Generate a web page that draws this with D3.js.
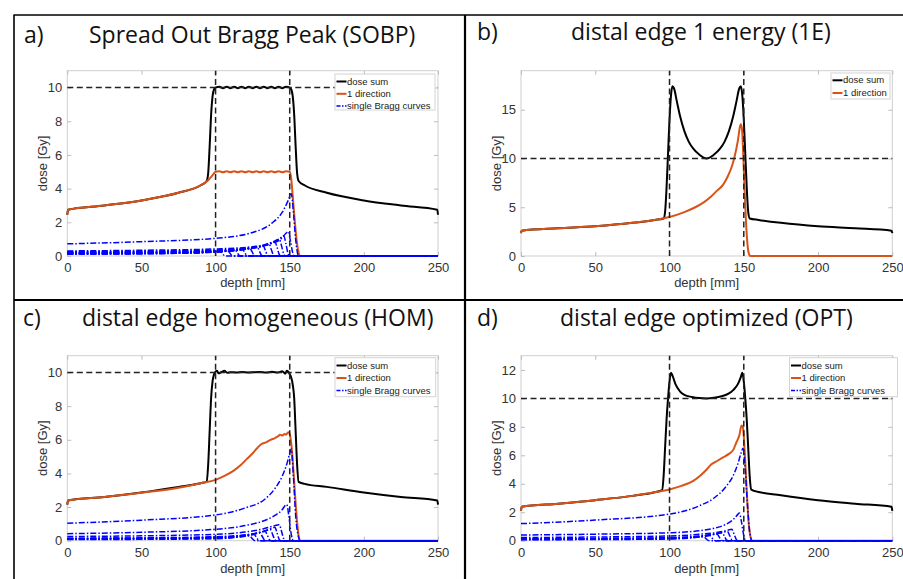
<!DOCTYPE html>
<html>
<head>
<meta charset="utf-8">
<script src="https://cdn.jsdelivr.net/npm/d3@7"></script>
<style>
  body { margin: 0; background: #fff; }
  svg { display: block; }
</style>
</head>
<body>
<svg id="fig" width="903" height="579"></svg>
<script>
// ---------- data ----------
const xTicks = [0, 50, 100, 150, 200, 250];
const aYTicks = [0, 2, 4, 6, 8, 10];
const bYTicks = [0, 5, 10, 15];
const cYTicks = [0, 2, 4, 6, 8, 10];
const dYTicks = [0, 2, 4, 6, 8, 10, 12];

const panelLetters = ["a)", "b)", "c)", "d)"];
const panelTitles = [
  "Spread Out Bragg Peak (SOBP)",
  "distal edge 1 energy (1E)",
  "distal edge homogeneous (HOM)",
  "distal edge optimized (OPT)"
];
const legendLabels = ["dose sum", "1 direction", "single Bragg curves"];
const targetEdges = [100, 150];   // mm
const prescribedDose = 10;        // Gy

// a) SOBP
const aSum = [[0,2.45],[0.5,2.75],[25,3.0],[50,3.3],[75,3.75],[90,4.2],[94,4.45],[95,4.9],[96,6.5],[97,8.4],[98,9.5],[99,9.9],[100,10],
  [102.5,10.05],[105,9.96],[107.5,10.05],[110,9.96],[112.5,10.05],[115,9.96],[117.5,10.05],[120,9.96],[122.5,10.05],[125,9.96],
  [127.5,10.05],[130,9.96],[132.5,10.05],[135,9.96],[137.5,10.05],[140,9.96],[142.5,10.05],[145,9.96],[147.5,10.05],[150,10],
  [151,9.9],[152,9.5],[153,8.4],[154,6.5],[155,4.9],[156,4.45],[160,4.2],[175,3.75],[200,3.3],[225,3.0],[249.5,2.75],[250,2.45]];
const aDir = [[0,2.45],[0.5,2.75],[25,3.0],[50,3.3],[75,3.75],[90,4.2],[95,4.5],[98,4.8],[100,5],
  [102.5,5.03],[105,4.97],[107.5,5.03],[110,4.97],[112.5,5.03],[115,4.97],[117.5,5.03],[120,4.97],[122.5,5.03],[125,4.97],
  [127.5,5.03],[130,4.97],[132.5,5.03],[135,4.97],[137.5,5.03],[140,4.97],[142.5,5.03],[145,4.97],[147.5,5.03],[150,5],
  [151,4.6],[152,3.6],[153,2.5],[154,1.5],[155,0.7],[156,0.2],[157,0],[250,0]];
const aBragg = [
  [[0,.72],[50,.85],[100,1.05],[125,1.4],[138,1.95],[145,2.6],[149,3.3],[151,3.7],[152.5,2.6],[154,1.0],[156,0],[250,0]],
  [[0,.30],[50,.34],[100,.42],[125,.55],[138,.75],[144,1.0],[147.5,1.35],[149,1.45],[150.5,.9],[152,.2],[153,0],[250,0]],
  [[0,.26],[50,.29],[100,.36],[125,.5],[136,.7],[142,.95],[145,1.15],[146,1.2],[147.5,.7],[149,.1],[150,0],[250,0]],
  [[0,.23],[50,.26],[100,.32],[122,.45],[133,.62],[139,.85],[142,.98],[143,1.0],[144.5,.6],[146,.1],[147,0],[250,0]],
  [[0,.21],[50,.24],[100,.3],[120,.42],[131,.58],[136,.75],[139,.84],[140,.85],[141.5,.5],[143,.08],[144,0],[250,0]],
  [[0,.19],[50,.22],[100,.28],[118,.38],[127,.5],[132,.63],[135,.71],[136,.72],[137.5,.4],[139,.06],[140,0],[250,0]],
  [[0,.17],[50,.2],[100,.26],[115,.35],[123,.45],[128,.55],[131,.61],[132,.62],[133.5,.35],[135,.05],[136,0],[250,0]],
  [[0,.16],[50,.18],[100,.24],[112,.32],[120,.4],[124,.48],[127,.54],[128,.55],[129.5,.3],[131,.04],[132,0],[250,0]],
  [[0,.15],[50,.17],[95,.22],[108,.29],[116,.36],[120,.43],[122,.47],[123,.48],[124.5,.27],[126,.04],[127,0],[250,0]],
  [[0,.14],[50,.16],[90,.2],[104,.27],[111,.33],[115,.38],[117,.41],[118,.42],[119.5,.24],[121,.03],[122,0],[250,0]],
  [[0,.13],[50,.15],[85,.19],[100,.25],[106,.3],[110,.35],[112,.37],[113,.38],[114.5,.21],[116,.03],[117,0],[250,0]],
  [[0,.12],[50,.14],[80,.18],[95,.23],[101,.27],[105,.31],[107,.33],[108,.34],[109.5,.19],[111,.03],[112,0],[250,0]],
  [[0,.11],[50,.13],[75,.16],[90,.2],[96,.24],[100,.28],[102,.29],[103,.3],[104.5,.17],[106,.02],[107,0],[250,0]]
];

// b) 1E
const bSum = [[0,2.35],[0.5,2.6],[25,2.85],[50,3.05],[75,3.4],[90,3.7],[96,3.85],[97,4.5],[98,7],[99,10.5],[100,14],[101,16.5],[102,17.4],
  [103,17.2],[105,15.8],[107,14.4],[110,12.8],[113,11.7],[116,11.0],[120,10.4],[125,10.0],[130,10.4],[134,11.0],[137,11.7],
  [140,12.8],[143,14.4],[145,15.8],[147,17.2],[148,17.4],[149,16.5],[150,14],[151,10.5],[152,7],[153,4.5],[154,3.85],
  [160,3.7],[175,3.4],[200,3.05],[225,2.85],[249.5,2.6],[250,2.35]];
const bDir = [[0,2.35],[0.5,2.6],[25,2.85],[50,3.05],[75,3.4],[90,3.7],[100,4.0],[110,4.5],[118,5.05],[123,5.5],[128,6.1],
  [132,6.7],[136,7.3],[139,8.1],[142,9.2],[144,10.3],[146,11.8],[147.5,13.3],[148,13.5],[148.8,13.0],[149.6,10.5],
  [150.5,7],[151.5,3.5],[152.5,1.2],[153.5,0.2],[154.5,0],[250,0]];

// c) HOM
const cSum = [[0,2.15],[0.5,2.39],[25,2.6],[50,2.87],[75,3.2],[90,3.42],[94,3.5],[95,4.5],[96,6.5],[97,8.5],[98,9.5],[99,9.9],
  [100,10.05],[101,10.1],[102,9.95],[104,10.03],[106,10.1],[108,9.98],[110,10.02],[114,10.0],[118,10.03],[122,10.0],
  [126,10.02],[130,10.03],[134,10.0],[138,10.04],[142,10.0],[145,10.08],[147,9.93],[148,10.1],[149,10.05],[150,9.9],
  [151,9.7],[152,9.3],[153,8.5],[154,6.5],[155,4.5],[156,3.5],[160,3.38],[175,3.2],[200,2.87],[225,2.6],[249.5,2.39],[250,2.15]];
const cDir = [[0,2.15],[0.5,2.39],[25,2.6],[50,2.85],[75,3.15],[90,3.42],[100,3.62],[106,3.85],[112,4.15],[117,4.5],[121,4.85],
  [125,5.2],[128,5.5],[131,5.75],[134,5.85],[137,6.0],[140,6.1],[142,6.2],[143.5,6.3],[145,6.25],[146.5,6.35],[147.5,6.3],
  [149,6.45],[150,6.35],[151,5.8],[152,4.8],[153,3.5],[154,2.2],[155,1.1],[156,0.3],[157,0],[250,0]];
const cBragg = [
  [[0,1.04],[50,1.22],[100,1.53],[120,1.95],[133,2.45],[140,3.1],[145,3.85],[148.5,4.7],[150,5.2],[151,5.45],[152.5,3.8],[154,1.5],[156,.2],[157,0],[250,0]],
  [[0,.42],[50,.5],[100,.68],[120,.9],[133,1.2],[140,1.5],[145,1.85],[147,2.1],[148,2.15],[149.5,1.4],[151,.4],[152.5,0],[250,0]],
  [[0,.25],[50,.29],[100,.38],[120,.52],[132,.7],[138,.85],[142,.94],[143,.95],[144.5,.55],[146,.1],[147,0],[250,0]],
  [[0,.15],[50,.17],[100,.24],[120,.35],[130,.5],[136,.68],[139,.78],[140,.8],[141.5,.45],[143,.06],[144,0],[250,0]],
  [[0,.13],[50,.15],[100,.21],[118,.3],[128,.44],[134,.6],[136,.65],[137,.66],[138.5,.36],[140,.05],[141,0],[250,0]],
  [[0,.12],[50,.14],[100,.19],[116,.27],[125,.38],[130,.5],[132.5,.55],[133.5,.56],[135,.3],[136.5,.04],[137.5,0],[250,0]],
  [[0,.1],[50,.12],[100,.17],[114,.24],[122,.33],[127,.42],[129,.45],[130,.46],[131.5,.25],[133,.03],[134,0],[250,0]],
  [[0,.09],[50,.1],[100,.14],[112,.2],[119,.27],[123,.33],[125,.36],[126,.37],[127.5,.2],[129,.03],[130,0],[250,0]],
  [[0,.07],[50,.08],[100,.12],[110,.16],[116,.22],[120,.26],[122,.28],[123,.29],[124.5,.15],[126,.02],[127,0],[250,0]]
];

// d) OPT
const dSum = [[0,2.1],[0.5,2.38],[25,2.6],[50,2.85],[75,3.15],[90,3.4],[95,3.55],[96,4.5],[97,6.5],[98,8.5],[99,10],[100,11.2],
  [101,11.8],[102,11.6],[104,11.0],[107,10.5],[110,10.25],[115,10.1],[120,10.02],[125,10.0],[130,10.05],[135,10.15],
  [140,10.35],[143,10.6],[146,11.0],[148,11.5],[149,11.8],[150,11.2],[151,10],[152,8.5],[153,6.5],[154,4.5],[155,3.6],
  [157,3.5],[175,3.2],[200,2.85],[225,2.6],[249.5,2.38],[250,2.1]];
const dDir = [[0,2.1],[0.5,2.38],[25,2.6],[50,2.85],[75,3.15],[90,3.4],[100,3.6],[108,3.85],[116,4.2],[121,4.6],[125,5.0],
  [128,5.35],[132,5.6],[136,5.85],[140,6.1],[143,6.4],[145,6.9],[147,7.4],[148.5,8.1],[149.5,7.9],[150.5,6.5],[151.5,4.5],
  [152.5,2.5],[153.5,1.0],[154.5,0.3],[155.5,0],[250,0]];
const dBragg = [
  [[0,1.2],[50,1.45],[100,1.87],[120,2.45],[130,3.0],[138,3.8],[143,4.6],[146,5.4],[148,6.1],[149.5,6.5],[151,5.0],[152.5,2.5],[154,.6],[155.5,0],[250,0]],
  [[0,.4],[50,.46],[100,.56],[120,.7],[130,.88],[138,1.15],[143,1.5],[146,1.85],[147,1.95],[148.5,1.3],[150,.35],[151.5,0],[250,0]],
  [[0,.22],[50,.26],[100,.33],[120,.45],[130,.55],[137,.68],[141,.78],[142,.8],[143.5,.45],[145,.08],[146,0],[250,0]],
  [[0,.14],[50,.16],[100,.22],[120,.33],[130,.46],[135,.58],[138,.64],[139,.65],[140.5,.36],[142,.05],[143,0],[250,0]],
  [[0,.12],[50,.14],[100,.19],[118,.28],[127,.4],[132,.5],[134.5,.54],[135.5,.55],[137,.3],[138.5,.04],[139.5,0],[250,0]],
  [[0,.1],[50,.12],[100,.17],[115,.24],[124,.33],[129,.42],[131,.45],[132,.46],[133.5,.25],[135,.03],[136,0],[250,0]],
  [[0,.09],[50,.1],[100,.14],[112,.2],[120,.27],[124,.32],[126,.35],[127,.36],[128.5,.2],[130,.03],[131,0],[250,0]],
  [[0,.07],[50,.08],[100,.12],[110,.16],[116,.21],[120,.25],[122,.27],[123,.28],[124.5,.15],[126,.02],[127,0],[250,0]]
];

// ---------- layout ----------
const panels = [
  { sum: aSum, dir: aDir, bragg: aBragg, yTicks: aYTicks, ymax: 11,
    x0: 67.3, x1: 438, yT: 70.7, yB: 256,
    letterX: 24, titleX: 89, titleY: 43, ylabX: 46.5, xlabY: 287,
    leg: { x: 335, y: 74, w: 100, h: 36, rows: [84.5, 96.8, 109] } },
  { sum: bSum, dir: bDir, bragg: [], yTicks: bYTicks, ymax: 19,
    x0: 521, x1: 892.3, yT: 70.7, yB: 256,
    letterX: 477, titleX: 571, titleY: 40, ylabX: 500.5, xlabY: 287,
    leg: { x: 831, y: 73, w: 59, h: 26, rows: [83.3, 96] } },
  { sum: cSum, dir: cDir, bragg: cBragg, yTicks: cYTicks, ymax: 11,
    x0: 67.3, x1: 438, yT: 355.7, yB: 540.7,
    letterX: 23, titleX: 82, titleY: 326, ylabX: 46.5, xlabY: 573,
    leg: { x: 335, y: 357.7, w: 100.7, h: 39, rows: [368.5, 381, 393.5] } },
  { sum: dSum, dir: dDir, bragg: dBragg, yTicks: dYTicks, ymax: 13,
    x0: 521, x1: 892.3, yT: 355.7, yB: 540.7,
    letterX: 477, titleX: 560, titleY: 326, ylabX: 500.5, xlabY: 573,
    leg: { x: 789.5, y: 357.7, w: 108, h: 39, rows: [368.5, 381, 393.5] } }
];

const svg = d3.select("#fig");
const tickFont = "'Liberation Sans', Arial, sans-serif";
const titleFont = "'Open Sans', 'Noto Sans', sans-serif";
const orange = "#D95319";
const braggDash = "6,2,1.5,2";

// outer frame of the figure
const frame = svg.append("g").attr("stroke", "#000").attr("fill", "none");
frame.append("line").attr("x1", 13.5).attr("x2", 903).attr("y1", 15).attr("y2", 15).attr("stroke-width", 1.6);
frame.append("line").attr("x1", 14).attr("x2", 14).attr("y1", 15).attr("y2", 579).attr("stroke-width", 1.6);
frame.append("line").attr("x1", 465).attr("x2", 465).attr("y1", 15).attr("y2", 579).attr("stroke-width", 2.2);
frame.append("line").attr("x1", 14).attr("x2", 903).attr("y1", 300).attr("y2", 300).attr("stroke-width", 2.2);

panels.forEach(function(p, i) {
  const g = svg.append("g");
  const x = d3.scaleLinear().domain([0, 250]).range([p.x0, p.x1]);
  const y = d3.scaleLinear().domain([0, p.ymax]).range([p.yB, p.yT]);

  // titles
  g.append("text").attr("x", p.letterX).attr("y", p.titleY)
    .style("font-family", titleFont).style("font-size", "23px").attr("fill", "#111")
    .text(panelLetters[i]);
  g.append("text").attr("x", p.titleX).attr("y", p.titleY)
    .style("font-family", titleFont).style("font-size", "23px").attr("fill", "#111")
    .text(panelTitles[i]);

  // axes box
  g.append("rect").attr("x", p.x0).attr("y", p.yT)
    .attr("width", p.x1 - p.x0).attr("height", p.yB - p.yT)
    .attr("fill", "#fff").attr("stroke", "#cfcfcf").attr("stroke-width", 1);

  function styleAxis(sel, labels) {
    sel.select(".domain").remove();
    sel.selectAll(".tick line").attr("stroke", "#bdbdbd");
    sel.selectAll(".tick text").attr("fill", "#333")
      .style("font-family", tickFont).style("font-size", "13px");
    if (!labels) sel.selectAll(".tick text").remove();
  }

  g.append("g").attr("transform", "translate(0," + p.yB + ")")
    .call(d3.axisBottom(x).tickValues(xTicks).tickSizeInner(-4).tickSizeOuter(0).tickPadding(7))
    .call(styleAxis, true);
  g.append("g").attr("transform", "translate(0," + p.yT + ")")
    .call(d3.axisTop(x).tickValues(xTicks).tickSizeInner(-4).tickSizeOuter(0))
    .call(styleAxis, false);
  g.append("g").attr("transform", "translate(" + p.x0 + ",0)")
    .call(d3.axisLeft(y).tickValues(p.yTicks).tickSizeInner(-4).tickSizeOuter(0).tickPadding(5))
    .call(styleAxis, true);
  g.append("g").attr("transform", "translate(" + p.x1 + ",0)")
    .call(d3.axisRight(y).tickValues(p.yTicks).tickSizeInner(-4).tickSizeOuter(0))
    .call(styleAxis, false);

  // axis labels
  g.append("text").attr("x", (p.x0 + p.x1) / 2).attr("y", p.xlabY)
    .attr("text-anchor", "middle").attr("fill", "#333")
    .style("font-family", tickFont).style("font-size", "13px").text("depth [mm]");
  g.append("text")
    .attr("transform", "translate(" + p.ylabX + "," + ((p.yT + p.yB) / 2) + ") rotate(-90)")
    .attr("text-anchor", "middle").attr("fill", "#333")
    .style("font-family", tickFont).style("font-size", "13px").text("dose [Gy]");

  const line = d3.line()
    .x(function(d) { return x(d[0]); })
    .y(function(d) { return y(d[1]); })
    .curve(d3.curveMonotoneX);

  // curves
  g.append("path").datum(p.sum).attr("d", line)
    .attr("fill", "none").attr("stroke", "#000").attr("stroke-width", 2);
  g.append("path").datum(p.dir).attr("d", line)
    .attr("fill", "none").attr("stroke", orange).attr("stroke-width", 2);
  g.selectAll("path.bragg").data(p.bragg).enter().append("path")
    .attr("class", "bragg").attr("d", line)
    .attr("fill", "none").attr("stroke", "#0000ff").attr("stroke-width", 1.5)
    .attr("stroke-dasharray", braggDash);

  // target edges and prescribed dose
  targetEdges.forEach(function(e) {
    g.append("line").attr("x1", x(e)).attr("x2", x(e)).attr("y1", p.yB).attr("y2", p.yT)
      .attr("stroke", "#222").attr("stroke-width", 1.5).attr("stroke-dasharray", "6,3.5");
  });
  g.append("line").attr("x1", p.x0).attr("x2", p.x1)
    .attr("y1", y(prescribedDose)).attr("y2", y(prescribedDose))
    .attr("stroke", "#222").attr("stroke-width", 1.5).attr("stroke-dasharray", "6,3.5");

  // legend
  const L = p.leg;
  const lg = g.append("g");
  lg.append("rect").attr("x", L.x).attr("y", L.y).attr("width", L.w).attr("height", L.h)
    .attr("fill", "#fff").attr("stroke", "#d4d4d4").attr("stroke-width", 1);
  const styles = [
    { c: "#000", w: 2, dash: null },
    { c: orange, w: 2, dash: null },
    { c: "#0000ff", w: 1.3, dash: "4,1.5,1.5,1.5" }
  ];
  L.rows.forEach(function(ry, k) {
    lg.append("line").attr("x1", L.x + 1.5).attr("x2", L.x + 11.5)
      .attr("y1", ry - 3).attr("y2", ry - 3)
      .attr("stroke", styles[k].c).attr("stroke-width", styles[k].w)
      .attr("stroke-dasharray", styles[k].dash);
    lg.append("text").attr("x", L.x + 12).attr("y", ry)
      .attr("fill", "#222").style("font-family", tickFont).style("font-size", "9.5px")
      .text(legendLabels[k]);
  });
});
</script>
</body>
</html>
